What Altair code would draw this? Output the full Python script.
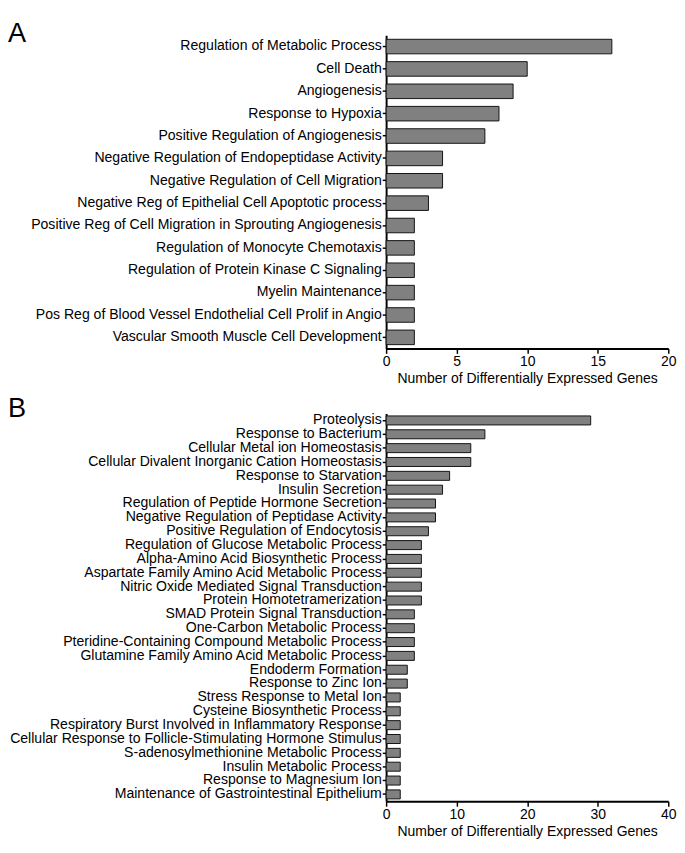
import altair as alt
import pandas as pd

FONT = "Liberation Sans"
TITLE = "Number of Differentially Expressed Genes"

a_terms = [
    "Regulation of Metabolic Process",
    "Cell Death",
    "Angiogenesis",
    "Response to Hypoxia",
    "Positive Regulation of Angiogenesis",
    "Negative Regulation of Endopeptidase Activity",
    "Negative Regulation of Cell Migration",
    "Negative Reg of Epithelial Cell Apoptotic process",
    "Positive Reg of Cell Migration in Sprouting Angiogenesis",
    "Regulation of Monocyte Chemotaxis",
    "Regulation of Protein Kinase C Signaling",
    "Myelin Maintenance",
    "Pos Reg of Blood Vessel Endothelial Cell Prolif in Angio",
    "Vascular Smooth Muscle Cell Development",
]
a_values = [16, 10, 9, 8, 7, 4, 4, 3, 2, 2, 2, 2, 2, 2]
a_ticks = [0, 5, 10, 15, 20]

b_terms = [
    "Proteolysis",
    "Response to Bacterium",
    "Cellular Metal ion Homeostasis",
    "Cellular Divalent Inorganic Cation Homeostasis",
    "Response to Starvation",
    "Insulin Secretion",
    "Regulation of Peptide Hormone Secretion",
    "Negative Regulation of Peptidase Activity",
    "Positive Regulation of Endocytosis",
    "Regulation of Glucose Metabolic Process",
    "Alpha-Amino Acid Biosynthetic Process",
    "Aspartate Family Amino Acid Metabolic Process",
    "Nitric Oxide Mediated Signal Transduction",
    "Protein Homotetramerization",
    "SMAD Protein Signal Transduction",
    "One-Carbon Metabolic Process",
    "Pteridine-Containing Compound Metabolic Process",
    "Glutamine Family Amino Acid Metabolic Process",
    "Endoderm Formation",
    "Response to Zinc Ion",
    "Stress Response to Metal Ion",
    "Cysteine Biosynthetic Process",
    "Respiratory Burst Involved in Inflammatory Response",
    "Cellular Response to Follicle-Stimulating Hormone Stimulus",
    "S-adenosylmethionine Metabolic Process",
    "Insulin Metabolic Process",
    "Response to Magnesium Ion",
    "Maintenance of Gastrointestinal Epithelium",
]
b_values = [29, 14, 12, 12, 9, 8, 7, 7, 6, 5, 5, 5, 5, 5, 4, 4, 4, 4, 3, 3,
            2, 2, 2, 2, 2, 2, 2, 2]
b_ticks = [0, 10, 20, 30, 40]


def panel(terms, values, ticks, height, letter, letter_y, label_size):
    df = pd.DataFrame({"term": terms, "genes": values})
    bars = alt.Chart(df).mark_bar(
        fill="#808080", stroke="#111111", strokeWidth=1
    ).encode(
        x=alt.X(
            "genes:Q",
            scale=alt.Scale(domain=[ticks[0], ticks[-1]], nice=False),
            axis=alt.Axis(
                values=ticks, title=TITLE, labelFlush=False, grid=False,
                tickSize=5, labelPadding=2, titlePadding=4, format="d",
            ),
        ),
        y=alt.Y(
            "term:N", sort=terms,
            scale=alt.Scale(paddingInner=0.35, paddingOuter=0.175),
            axis=alt.Axis(title=None, tickSize=4, labelPadding=1,
                          labelLimit=500, labelFontSize=label_size),
        ),
    )
    lab = alt.Chart(pd.DataFrame({"t": [letter]})).mark_text(
        align="left", baseline="alphabetic", fontSize=28, font=FONT,
        color="black",
    ).encode(text="t:N", x=alt.value(-390), y=alt.value(letter_y))
    return alt.layer(bars, lab).properties(width=291, height=height)


pa = panel(a_terms, a_values, a_ticks, 323, "A", 7, 14.5)
pb = panel(b_terms, b_values, b_ticks, 400, "B", 4, 14.5)

chart = alt.vconcat(pa, pb, spacing=11).properties(padding=0).configure_view(
    stroke=None
).configure_axis(
    domainColor="black", domainWidth=2, tickColor="black", tickWidth=1.5,
    labelColor="black", labelFont=FONT, labelFontSize=14.4,
    titleFont=FONT, titleFontSize=14.4, titleFontWeight="normal",
    titleColor="black",
)

chart.save("out.html", embed_options={"renderer": "svg", "actions": False})
